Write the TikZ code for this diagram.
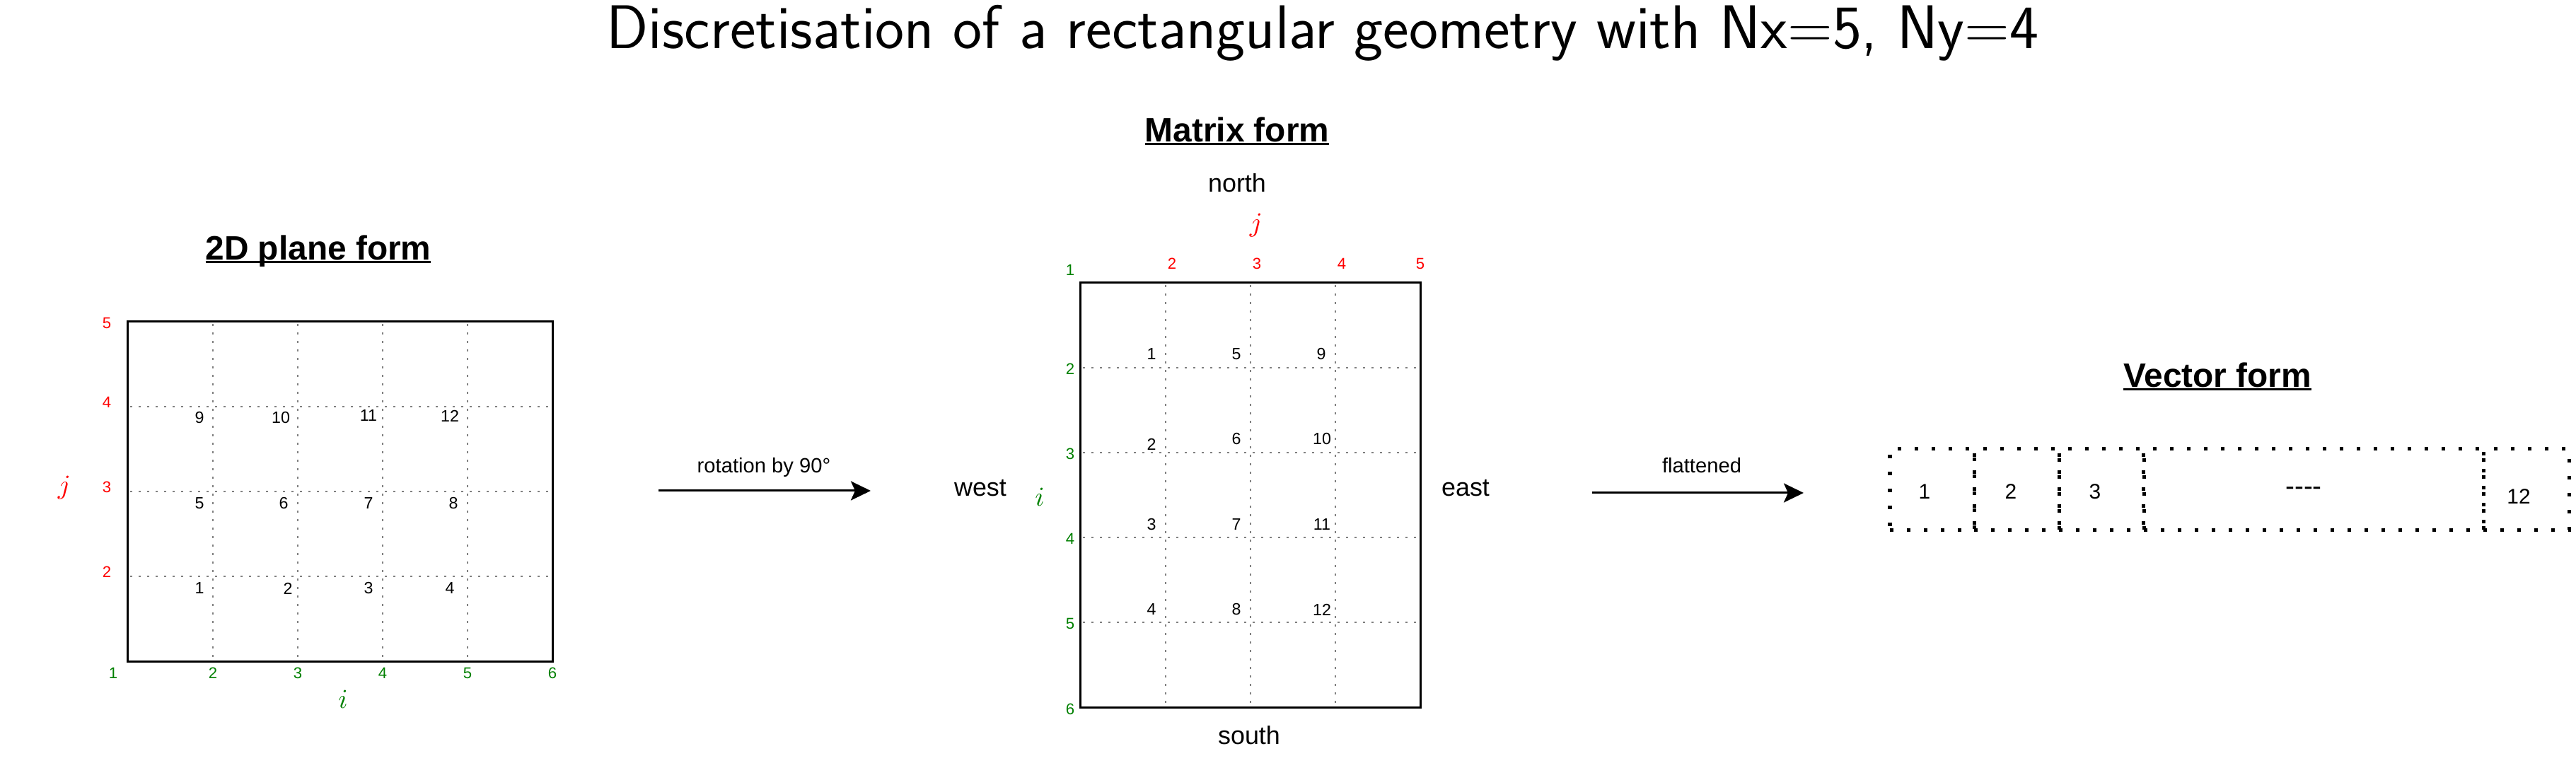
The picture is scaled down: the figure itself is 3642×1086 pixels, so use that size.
\documentclass[tikz,border=0pt]{standalone}
\usepackage{fontspec}
\setmainfont{Liberation Sans}
\usetikzlibrary{arrows.meta}
\definecolor{gred}{RGB}{255,0,0}
\definecolor{ggreen}{RGB}{0,128,0}
\definecolor{dotgrey}{RGB}{128,128,128}
\newcommand\fsz[1]{\fontsize{#1pt}{#1pt}\selectfont}
\begin{document}
\begin{tikzpicture}[x=0.01cm,y=-0.01cm,
  every node/.style={inner sep=0pt, outer sep=0pt},
  gridbox/.style={draw=black, line width=0.03cm, rectangle},
  gridline/.style={draw=dotgrey, line width=0.026cm, dash pattern=on 0.026cm off 0.094cm},
  cellnum/.style={font=\fsz{6.6}, text=black},
  rlab/.style={font=\fsz{6.3}, text=gred},
  glab/.style={font=\fsz{6.3}, text=ggreen},
  sect/.style={font=\bfseries\fsz{13.6}, anchor=base},
  uline/.style={draw=black, line width=0.03cm},
  dirlab/.style={font=\fsz{10.2}, anchor=base},
  arrlab/.style={font=\fsz{8.3}, anchor=base},
  conn/.style={draw=black, line width=0.03cm, -{Stealth[length=0.28cm,width=0.27cm,inset=0.06cm]}},
  vcell/.style={draw=black, line width=0.05cm, dash pattern=on 0.05cm off 0.19cm, minimum height=1.14cm},
  vnum/.style={font=\fsz{8.5}},
  axisvar/.style={font=\fsz{11.4}},
]
\useasboundingbox (0,0) rectangle (3642,1086);

% main title
\node[anchor=base, font=\sffamily\fsz{24.8}] (title) at (1870,69) {Discretisation of a rectangular geometry with Nx=5, Ny=4};

% ---------- 2D plane form ----------
\node[sect] (t2d) at (450,368) {2D plane form};
\draw[uline] ([yshift=-0.03cm]t2d.base west) -- ([yshift=-0.03cm]t2d.base east);
\node[gridbox, minimum width=6cm, minimum height=4.8cm] (plane) at (481,695) {};
\foreach \x in {301,421,541,661} \draw[gridline] (\x,458) -- (\x,932);
\foreach \y in {575,695,815} \draw[gridline] (184,\y) -- (778,\y);
\foreach \t/\y in {5/457,4/569,3/689,2/809} \node[rlab] (pr\t) at (151,\y) {\t};
\foreach \t/\x in {1/160,2/301,3/421,4/541,5/661,6/781} \node[glab] (pg\t) at (\x,952) {\t};
\node[axisvar, text=gred] (pj) at (91,690) {$j$};
\node[axisvar, text=ggreen] (pi) at (485,989) {$i$};
\foreach \t/\x/\y in {1/282/832, 2/407/832, 3/521/832, 4/636/832,
                      5/282/712, 6/401/712, 7/521/712, 8/641/712,
                      9/282/591, 10/397/591, 11/521/588, 12/636/588}
  \node[cellnum] (pc\t) at (\x,\y) {\t};

% arrow 1
\coordinate (r1s) at (931,694);
\coordinate (r1e) at (1231,694);
\draw[conn] (r1s) -- (r1e);
\node[arrlab] (r1lab) at (1080,669) {rotation by 90°};

% ---------- Matrix form ----------
\node[sect] (tmat) at (1749,201) {Matrix form};
\draw[uline] ([yshift=-0.03cm]tmat.base west) -- ([yshift=-0.03cm]tmat.base east);
\node[dirlab] (north) at (1749,272) {north};
\node[axisvar, text=gred] (mj) at (1776,319) {$j$};
\foreach \t/\x in {2/1657,3/1777,4/1897,5/2008} \node[rlab] (mr\t) at (\x,373) {\t};
\node[glab] (mg1) at (1513,382) {1};
\foreach \t/\y in {2/522,3/642,4/762,5/882,6/1003} \node[glab] (mg\t) at (1513,\y) {\t};
\node[gridbox, minimum width=4.8cm, minimum height=6cm] (mat) at (1768,700) {};
\foreach \x in {1648,1768,1888} \draw[gridline] (\x,403) -- (\x,997);
\foreach \y in {520,640,760,880} \draw[gridline] (1531,\y) -- (2005,\y);
\foreach \t/\x/\y in {1/1628/501, 5/1748/501, 9/1868/501,
                      2/1628/628, 6/1748/621, 10/1869/621,
                      3/1628/742, 7/1748/742, 11/1869/742,
                      4/1628/862, 8/1748/862, 12/1869/862}
  \node[cellnum] (mc\t) at (\x,\y) {\t};
\node[dirlab] (west) at (1386,702) {west};
\node[dirlab] (east) at (2072,702) {east};
\node[axisvar, text=ggreen] (mi) at (1470,703) {$i$};
\node[dirlab] (south) at (1766,1053) {south};

% arrow 2
\coordinate (r2s) at (2251,697);
\coordinate (r2e) at (2550,697);
\draw[conn] (r2s) -- (r2e);
\node[arrlab] (r2lab) at (2406,669) {flattened};

% ---------- Vector form ----------
\node[sect] (tvec) at (3135,548) {Vector form};
\draw[uline] ([yshift=-0.03cm]tvec.base west) -- ([yshift=-0.03cm]tvec.base east);
\node[vcell, minimum width=1.19cm] (v1) at (2731.5,692) {};
\node[vcell, minimum width=1.20cm] (v2) at (2851,692) {};
\node[vcell, minimum width=1.20cm] (v3) at (2971,692) {};
\node[vcell, minimum width=4.80cm] (vdots) at (3271,692) {};
\node[vcell, minimum width=1.21cm] (v12) at (3571.5,692) {};
\node[vnum] (vt1) at (2721,695) {1};
\node[vnum] (vt2) at (2843,695) {2};
\node[vnum] (vt3) at (2962,695) {3};
\node[vnum, font=\fsz{11}] (vtd) at (3257,695) {-{}-{}-{}-};
\node[vnum] (vt12) at (3561,702) {12};
\end{tikzpicture}
\end{document}
